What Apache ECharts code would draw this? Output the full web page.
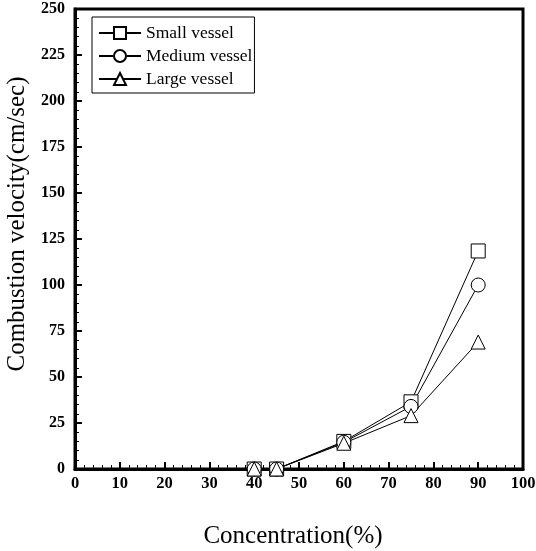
<!DOCTYPE html>
<html>
<head>
<meta charset="utf-8">
<script src="https://cdn.jsdelivr.net/npm/echarts@6/dist/echarts.min.js"></script>
<style>
  html, body { margin: 0; padding: 0; background: #fff; }
  #chart { width: 536px; height: 551px; }
</style>
</head>
<body>
<div id="chart"></div>
<script>
// Concentration (%) for each measurement
var concentration = [40, 45, 60, 75, 90];
// Combustion velocity (cm/sec) per vessel size
var smallVessel  = [0, 0, 15, 36.5, 118.5];
var mediumVessel = [0, 0, 14.5, 34, 100];
var largeVessel  = [0, 0, 14, 29, 69];

var seriesNames = ['Small vessel', 'Medium vessel', 'Large vessel'];
var seriesSymbols = ['rect', 'circle', 'triangle'];
var seriesValues = [smallVessel, mediumVessel, largeVessel];

var serif = 'Liberation Serif';

function pairs(xs, ys) {
  return xs.map(function (x, i) { return [x, ys[i]]; });
}

var chart = echarts.init(document.getElementById('chart'), null, { renderer: 'canvas' });

var series = seriesNames.map(function (name, i) {
  return {
    name: name,
    type: 'line',
    data: pairs(concentration, seriesValues[i]),
    symbol: seriesSymbols[i],
    symbolSize: 14,
    lineStyle: { color: '#000', width: 1 },
    itemStyle: { color: '#fff', borderColor: '#000', borderWidth: 1 },
    emphasis: { disabled: true },
    animation: false
  };
});

chart.setOption({
  backgroundColor: '#fff',
  animation: false,
  grid: {
    left: 75, right: 13, top: 9, bottom: 82,
    outerBoundsMode: 'none',
    containLabel: false,
    show: true, borderColor: '#000', borderWidth: 3, backgroundColor: 'transparent'
  },
  legend: {
    data: seriesNames,
    orient: 'vertical',
    left: 92, top: 17,
    itemWidth: 42, itemHeight: 15, itemGap: 5,
    padding: [7, 2, 5, 6],
    borderColor: '#000', borderWidth: 1,
    textStyle: { fontFamily: serif, fontSize: 17.5, color: '#000' }
  },
  xAxis: {
    type: 'value',
    min: 0, max: 100, interval: 10,
    name: 'Concentration(%)',
    nameLocation: 'middle', nameGap: 55,
    nameTextStyle: { fontFamily: serif, fontSize: 25, color: '#000', padding: [0, 12, 0, 0] },
    axisLine: { show: true, lineStyle: { color: '#000', width: 3 } },
    axisTick: { show: true, inside: true, length: 7, lineStyle: { color: '#000', width: 2 } },
    minorTick: { show: true, splitNumber: 5, length: 4, lineStyle: { color: '#000', width: 1 } },
    splitLine: { show: false },
    axisLabel: { fontFamily: serif, fontSize: 16.5, fontWeight: 'bold', color: '#000', margin: 6 }
  },
  yAxis: {
    type: 'value',
    min: 0, max: 250, interval: 25,
    name: 'Combustion velocity(cm/sec)',
    nameLocation: 'middle', nameGap: 43,
    nameTextStyle: { fontFamily: serif, fontSize: 25, color: '#000', padding: [0, 0, 0, 30] },
    axisLine: { show: true, lineStyle: { color: '#000', width: 3 } },
    axisTick: { show: true, inside: true, length: 7, lineStyle: { color: '#000', width: 2 } },
    minorTick: { show: true, splitNumber: 5, length: 4, lineStyle: { color: '#000', width: 1 } },
    splitLine: { show: false },
    axisLabel: { fontFamily: serif, fontSize: 16, fontWeight: 'bold', color: '#000', margin: 10 }
  },
  series: series
});
</script>
</body>
</html>
